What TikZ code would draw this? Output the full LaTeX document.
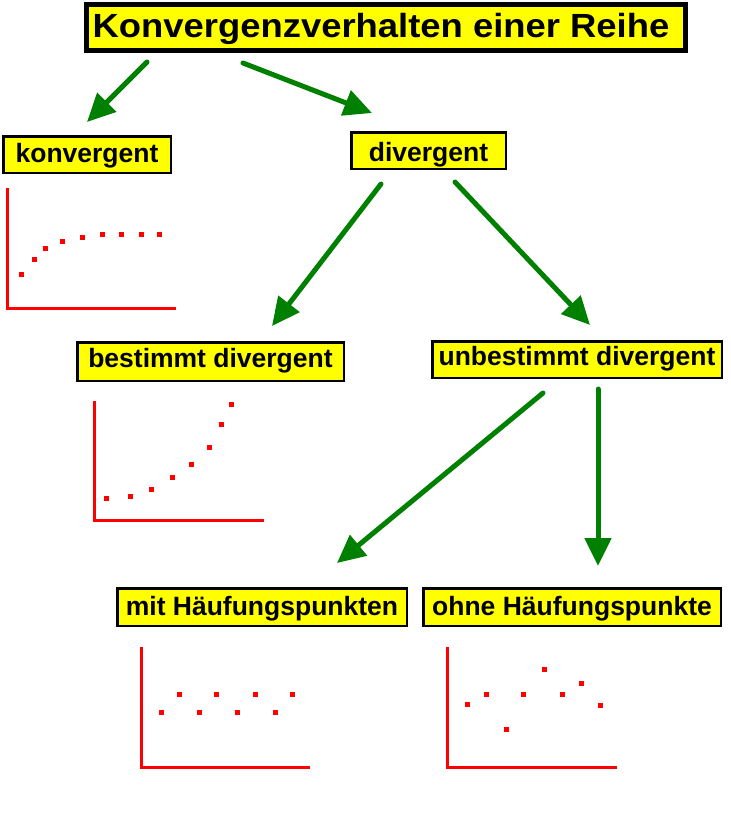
\documentclass[tikz,border=0pt]{standalone}
\usepackage{fontspec}
\setmainfont{Liberation Sans}
\usetikzlibrary{arrows.meta}
\definecolor{boxyellow}{RGB}{255,255,0}
\definecolor{arrowgreen}{RGB}{0,128,0}
\definecolor{plotred}{RGB}{255,0,0}
\begin{document}
\begin{tikzpicture}[x=1pt,y=-1pt,
  labelbox/.style={draw=black,line width=2.5pt,fill=boxyellow,inner sep=0pt,
    text height=20pt,text depth=4pt,
    font=\fontsize{26.5}{30}\selectfont\bfseries},
  titlebox/.style={draw=black,line width=5pt,fill=boxyellow,inner sep=0pt,
    text height=24.5pt,text depth=5.5pt,
    font=\fontsize{33.5}{38}\selectfont\bfseries},
  flow/.style={draw=arrowgreen,line width=5pt,line cap=round,
    -{Triangle[length=28pt,width=26pt]}},
  axis/.style={draw=plotred,line width=3pt},
  dot/.style={fill=plotred}]
\useasboundingbox (0,0) rectangle (731,815);
% boxes
\node[titlebox,minimum width=599pt,minimum height=46pt] (title) at (386,27.5)
  {\scalebox{1.087}[1]{Konvergenzverhalten einer Reihe}\hspace*{10pt}};
\node[labelbox,minimum width=167.5pt,minimum height=36.5pt] (konv) at (87,154.5) {konvergent};
\node[labelbox,text height=23pt,text depth=1pt,minimum width=154.5pt,minimum height=36.5pt] (div) at (428.5,150.5) {divergent};
\node[labelbox,text height=18pt,text depth=6pt,minimum width=266.5pt,minimum height=38.5pt] (best) at (210.5,361.5) {bestimmt divergent};
\node[labelbox,text height=18pt,text depth=6pt,minimum width=289.5pt,minimum height=36.5pt] (unbest) at (577,359.5) {unbestimmt divergent};
\node[labelbox,minimum width=289.5pt,minimum height=37.5pt] (mit) at (262,607) {mit Häufungspunkten};
\node[labelbox,minimum width=297.5pt,minimum height=37.5pt] (ohne) at (572,607) {ohne Häufungspunkte};
% arrow end points
\coordinate (a1s) at (147,62);  \coordinate (a1e) at (87,122);
\coordinate (a2s) at (243,63);  \coordinate (a2e) at (372,113);
\coordinate (a3s) at (381,184); \coordinate (a3e) at (272,326);
\coordinate (a4s) at (455,182); \coordinate (a4e) at (590,325);
\coordinate (a5s) at (543,393); \coordinate (a5e) at (337,563);
\coordinate (a6s) at (598,389); \coordinate (a6e) at (598,566);
\draw[flow] (a1s) -- (a1e);
\draw[flow] (a2s) -- (a2e);
\draw[flow] (a3s) -- (a3e);
\draw[flow] (a4s) -- (a4e);
\draw[flow] (a5s) -- (a5e);
\draw[flow] (a6s) -- (a6e);
% plot 1: konvergent
\draw[axis] (7,188) -- (7,308) -- (176,308);
\foreach \x/\y in {21/274,34/259,45/248,62/241,82/237,102/234,121/234,141/234,159/234}
  \fill[dot] (\x-2.5,\y-2.5) rectangle (\x+2.5,\y+2.5);
% plot 2: bestimmt divergent
\draw[axis] (94,401) -- (94,520) -- (264,520);
\foreach \x/\y in {106/498,130/496,151/489,172/477,191/464,209/447,221/424,231/404}
  \fill[dot] (\x-2.5,\y-2.5) rectangle (\x+2.5,\y+2.5);
% plot 3: mit Haeufungspunkten
\draw[axis] (141,647) -- (141,767) -- (310,767);
\foreach \x/\y in {161/712,179/694,199/712,216/694,237/712,255/694,275/712,292/694}
  \fill[dot] (\x-2.5,\y-2.5) rectangle (\x+2.5,\y+2.5);
% plot 4: ohne Haeufungspunkte
\draw[axis] (447,647) -- (447,767) -- (617,767);
\foreach \x/\y in {467/704,486/694,506/729,523/694,544/669,562/694,581/683,600/705}
  \fill[dot] (\x-2.5,\y-2.5) rectangle (\x+2.5,\y+2.5);
\end{tikzpicture}
\end{document}
